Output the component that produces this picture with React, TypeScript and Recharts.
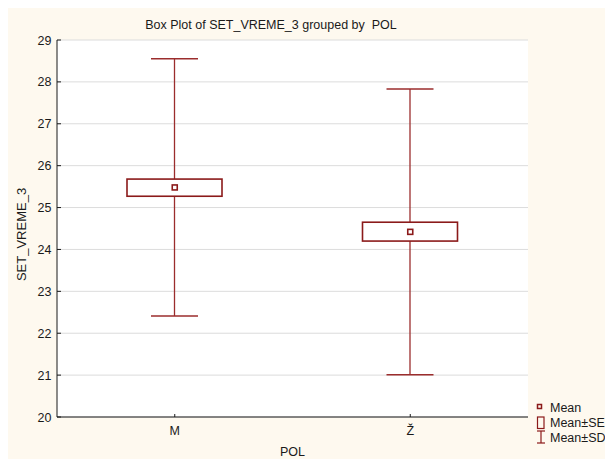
import React from 'react';
import { ComposedChart, Bar, Scatter, XAxis, YAxis, CartesianGrid } from 'recharts';

const categories = ['M', 'Ž'];
const means = [25.48, 24.42];
const seLow = [25.27, 24.2];
const seHigh = [25.68, 24.65];
const sdLow = [22.41, 21.01];
const sdHigh = [28.55, 27.83];
const yTicks = [20, 21, 22, 23, 24, 25, 26, 27, 28, 29];

const data = categories.map((cat, i) => ({
  cat,
  mean: means[i],
  se: [seLow[i], seHigh[i]],
  sd: [sdLow[i], sdHigh[i]],
}));

const RED = '#8b1a1a';
const WHISKER = '#9b2d2d';
const INK = '#1a1a1a';
const BG = '#fef9ef';
const FONT = '"Liberation Sans", Arial, sans-serif';

const Whisker = (props: any) => {
  const { x, y, width, height } = props;
  const cx = x + width / 2;
  const top = Math.min(y, y + height);
  const bottom = Math.max(y, y + height);
  return (
    <g>
      <line x1={cx} y1={top} x2={cx} y2={bottom} stroke={WHISKER} strokeWidth={1.3} />
      <line x1={x} y1={top} x2={x + width} y2={top} stroke={WHISKER} strokeWidth={1.5} />
      <line x1={x} y1={bottom} x2={x + width} y2={bottom} stroke={WHISKER} strokeWidth={1.5} />
    </g>
  );
};

const SeBox = (props: any) => {
  const { x, y, width, height } = props;
  return (
    <rect
      x={x}
      y={Math.min(y, y + height)}
      width={width}
      height={Math.abs(height)}
      fill="#fff"
      stroke={RED}
      strokeWidth={1.6}
    />
  );
};

const MeanDot = (props: any) => {
  const { cx, cy } = props;
  return <rect x={cx - 2.5} y={cy - 2.5} width={5} height={5} fill="#fff" stroke={RED} strokeWidth={1.6} />;
};

const BottomTick = ({ x, y, payload }: any) => (
  <g>
    <line x1={x} y1={y} x2={x} y2={y - 3} stroke={INK} />
    <text x={x} y={y + 18} textAnchor="middle" fill={INK} fontSize={12.5} fontFamily={FONT}>
      {payload.value}
    </text>
  </g>
);

const TopTick = ({ x, y }: any) => <line x1={x} y1={y} x2={x} y2={y + 3} stroke={INK} />;

const LeftTick = ({ x, y, payload }: any) => (
  <g>
    <line x1={x} y1={y} x2={x + 4} y2={y} stroke={INK} />
    <text x={x - 5.5} y={y + 4.5} textAnchor="end" fill={INK} fontSize={12.5} fontFamily={FONT}>
      {payload.value}
    </text>
  </g>
);

const RightTick = ({ x, y }: any) => <line x1={x} y1={y} x2={x - 4} y2={y} stroke={INK} />;

const YLabel = ({ viewBox }: any) => {
  const lx = viewBox.x + 18;
  const ly = viewBox.y + viewBox.height / 2 + 6;
  return (
    <text
      x={lx}
      y={ly}
      transform={`rotate(-90, ${lx}, ${ly})`}
      textAnchor="middle"
      fill={INK}
      fontSize={13}
      fontFamily={FONT}
    >
      SET_VREME_3
    </text>
  );
};

const legendText = { fontSize: 12.5, fontFamily: FONT, fill: INK };

export default function App() {
  return (
    <div style={{ position: 'absolute', left: 8, top: 8, width: 597, height: 451, background: BG, overflow: 'hidden' }}>
      <style>{'body{margin:0;overflow:hidden}'}</style>
      <div
        style={{
          position: 'absolute',
          left: 0,
          width: 526,
          top: 10,
          textAlign: 'center',
          fontFamily: FONT,
          fontSize: 12.5,
          color: INK,
          whiteSpace: 'pre',
        }}
      >
        {'Box Plot of SET_VREME_3 grouped by  POL'}
      </div>
      <ComposedChart
        width={597}
        height={451}
        data={data}
        margin={{ top: 32, right: 77, left: 0, bottom: 0 }}
        style={{ position: 'absolute', left: 0, top: 0 }}
      >
        <CartesianGrid vertical={false} stroke="#dcdcdc" fill="#fff" />
        <XAxis
          xAxisId="a"
          dataKey="cat"
          type="category"
          height={42}
          axisLine={{ stroke: INK }}
          tickLine={false}
          tickSize={0}
          tickMargin={0}
          tick={<BottomTick />}
          label={{ value: 'POL', position: 'insideBottom', offset: 3, fontSize: 12.5, fontFamily: FONT, fill: INK }}
        />
        <XAxis
          xAxisId="b"
          dataKey="cat"
          type="category"
          orientation="top"
          height={0}
          axisLine={{ stroke: INK }}
          tickLine={false}
          tickSize={0}
          tickMargin={0}
          tick={<TopTick />}
        />
        <YAxis
          domain={[20, 29]}
          ticks={yTicks}
          type="number"
          width={49}
          axisLine={{ stroke: INK }}
          tickLine={false}
          tickSize={0}
          tickMargin={0}
          tick={<LeftTick />}
          label={{ content: <YLabel /> }}
        />
        <YAxis
          yAxisId="r"
          orientation="right"
          domain={[20, 29]}
          ticks={yTicks}
          type="number"
          width={0}
          axisLine={{ stroke: INK }}
          tickLine={false}
          tickSize={0}
          tickMargin={0}
          tick={<RightTick />}
        />
        <Bar xAxisId="b" dataKey="sd" barSize={47} shape={<Whisker />} isAnimationActive={false} />
        <Bar xAxisId="a" dataKey="se" barSize={95} shape={<SeBox />} isAnimationActive={false} />
        <Scatter xAxisId="a" dataKey="mean" shape={<MeanDot />} isAnimationActive={false} />
      </ComposedChart>
      <svg
        width={597}
        height={451}
        style={{ position: 'absolute', left: 0, top: 0, pointerEvents: 'none', overflow: 'visible' }}
      >
        <rect x={529.5} y={396.5} width={4} height={4} fill="none" stroke={RED} strokeWidth={1.5} />
        <text x={542} y={404} {...legendText}>Mean</text>
        <rect x={529.5} y={409} width={6.5} height={11.5} fill="none" stroke={RED} strokeWidth={1.2} />
        <text x={542} y={419} {...legendText}>Mean±SE</text>
        <line x1={529} y1={423} x2={537} y2={423} stroke={RED} strokeWidth={1.2} />
        <line x1={533} y1={423} x2={533} y2={435} stroke={RED} strokeWidth={1.2} />
        <line x1={529} y1={435} x2={537} y2={435} stroke={RED} strokeWidth={1.2} />
        <text x={542} y={433.7} {...legendText}>Mean±SD</text>
      </svg>
    </div>
  );
}
